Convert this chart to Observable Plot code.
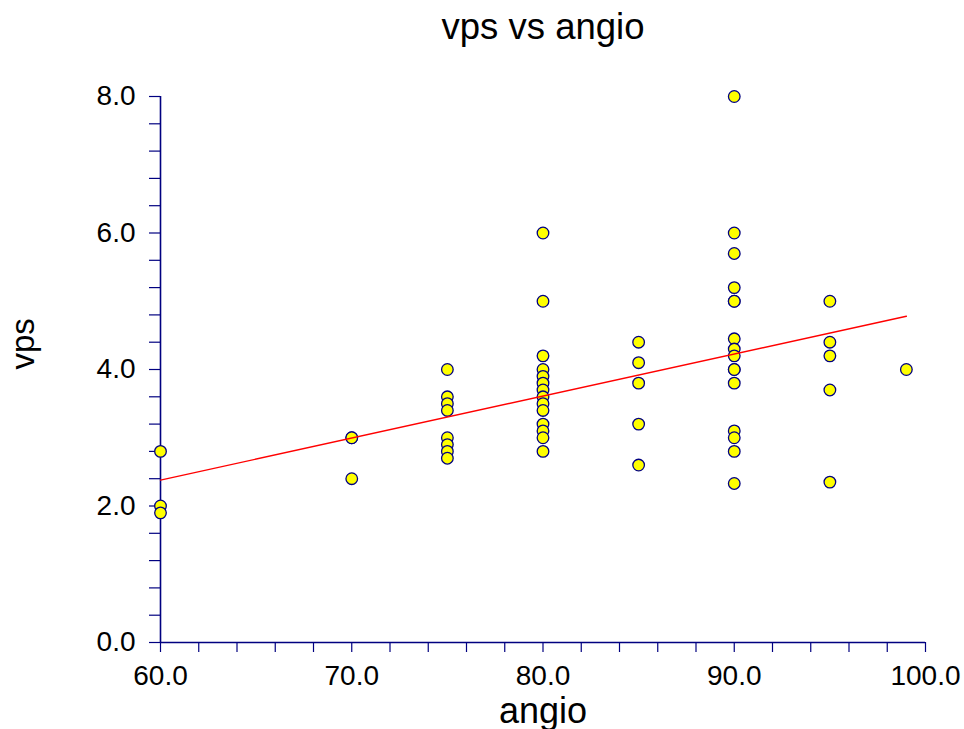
<!DOCTYPE html>
<html>
<head>
<meta charset="utf-8">
<script src="https://cdn.jsdelivr.net/npm/d3@7"></script>
<script src="https://cdn.jsdelivr.net/npm/@observablehq/plot@0.6"></script>
<style>
  html, body { margin: 0; padding: 0; background: #fff; }
  #chart { width: 964px; height: 729px; }
</style>
</head>
<body>
<div id="chart"></div>
<script>
// Scatter data: angio (x) and vps (y)
const angio = [
  60, 60, 60,
  70, 70, 70,
  75, 75, 75, 75, 75, 75, 75, 75,
  80, 80, 80, 80, 80, 80, 80, 80, 80, 80, 80, 80, 80, 80,
  85, 85, 85, 85, 85,
  90, 90, 90, 90, 90, 90, 90, 90, 90, 90, 90, 90, 90, 90, 90, 90,
  95, 95, 95, 95, 95,
  99
];
const vps = [
  2.8, 2.0, 1.9,
  3.0, 3.0, 2.4,
  4.0, 3.6, 3.5, 3.4, 3.0, 2.9, 2.8, 2.7,
  6.0, 5.0, 4.2, 4.0, 3.9, 3.8, 3.7, 3.6, 3.5, 3.4, 3.2, 3.1, 3.0, 2.8,
  4.4, 4.1, 3.8, 3.2, 2.6,
  8.0, 6.0, 5.7, 5.2, 5.0, 5.0, 4.45, 4.3, 4.2, 4.0, 4.0, 3.8, 3.1, 3.0, 2.8, 2.33,
  5.0, 4.4, 4.2, 3.7, 2.35,
  4.0
];

// Fitted regression line end points
const fitAngio = [60, 99];
const fitVps = [2.38, 4.78];

// Tick values
const xMajorTicks = [60, 70, 80, 90, 100];
const xMinorTicks = [62, 64, 66, 68, 72, 74, 76, 78, 82, 84, 86, 88, 92, 94, 96, 98];
const yMajorTicks = [0, 2, 4, 6, 8];
const yMinorTicks = [0.4, 0.8, 1.2, 1.6, 2.4, 2.8, 3.2, 3.6, 4.4, 4.8, 5.2, 5.6, 6.4, 6.8, 7.2, 7.6];

const titleText = "vps vs angio";
const xLabel = "angio";
const yLabel = "vps";

const points = angio.map((a, i) => ({angio: a, vps: vps[i]}));
const fit = fitAngio.map((a, i) => ({angio: a, vps: fitVps[i]}));

const navy = "#000080";
const font = "'Liberation Sans', Arial, sans-serif";

const chart = Plot.plot({
  width: 964,
  height: 729,
  marginLeft: 160,
  marginRight: 39,
  marginTop: 96,
  marginBottom: 87,
  style: {fontFamily: font, background: "#fff", color: "#000", overflow: "visible"},
  x: {domain: [60, 100]},
  y: {domain: [0, 8]},
  marks: [
    // minor ticks
    Plot.axisX(xMinorTicks, {stroke: navy, tickSize: 10, text: null, label: null, strokeWidth: 1.2}),
    Plot.axisY(yMinorTicks, {stroke: navy, tickSize: 11, text: null, label: null, strokeWidth: 1.2}),
    // major ticks with labels
    Plot.axisX(xMajorTicks, {stroke: navy, fill: "#000", tickSize: 10, tickPadding: 13, fontSize: 28,
      tickFormat: d => d.toFixed(1), label: null, strokeWidth: 1.2}),
    Plot.axisY(yMajorTicks, {stroke: navy, fill: "#000", tickSize: 11, tickPadding: 14, fontSize: 28,
      tickFormat: d => d.toFixed(1), label: null, strokeWidth: 1.2}),
    // axis lines
    Plot.ruleY([0], {stroke: navy, strokeWidth: 1.6}),
    Plot.ruleX([60], {stroke: navy, strokeWidth: 1.6}),
    // points
    Plot.dot(points, {x: "angio", y: "vps", r: 5.8, fill: "#FFFF00", stroke: navy, strokeWidth: 1.3}),
    // regression line
    Plot.line(fit, {x: "angio", y: "vps", stroke: "#FF0000", strokeWidth: 1.4}),
    // title and axis labels
    Plot.text([titleText], {frameAnchor: "top", lineAnchor: "bottom", dy: -58, fontSize: 36.5, fill: "#000"}),
    Plot.text([xLabel], {frameAnchor: "bottom", lineAnchor: "bottom", dy: 80, fontSize: 36, fill: "#000"}),
    Plot.text([yLabel], {frameAnchor: "left", lineAnchor: "bottom", rotate: -90, dx: -127, fontSize: 33, fill: "#000"})
  ]
});

document.getElementById("chart").appendChild(chart);
</script>
</body>
</html>
